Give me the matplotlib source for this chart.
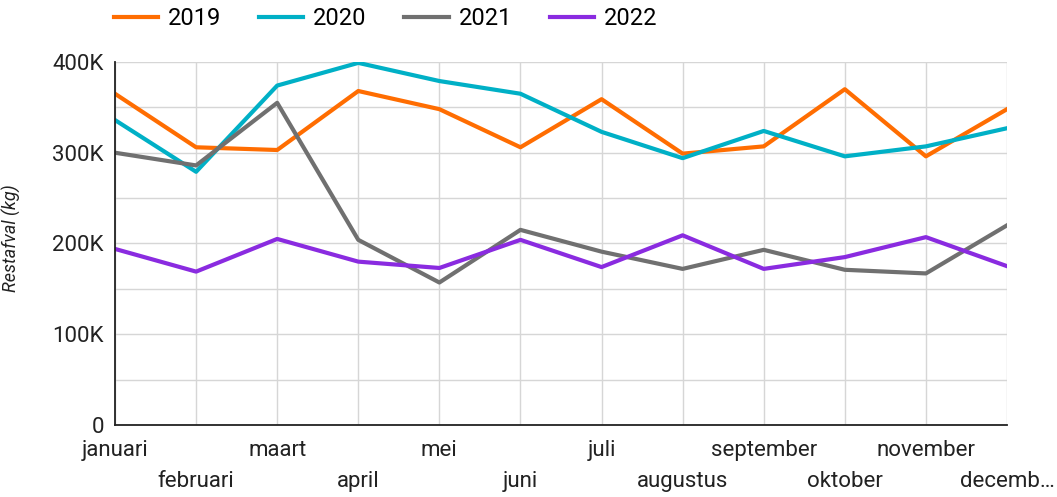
import matplotlib.pyplot as plt
from matplotlib.ticker import FuncFormatter, MultipleLocator

plt.rcParams['font.family'] = ['Roboto', 'DejaVu Sans']

# maanden en restafval per jaar (in kg)
maanden = ['januari', 'februari', 'maart', 'april', 'mei', 'juni', 'juli',
           'augustus', 'september', 'oktober', 'november', 'decemb…']
jaren = ['2019', '2020', '2021', '2022']
afval_2019 = [365000, 306000, 303000, 368000, 348000, 306000, 359000, 299000, 307000, 370000, 296000, 348000]
afval_2020 = [336000, 279000, 374000, 399000, 379000, 365000, 323000, 294000, 324000, 296000, 307000, 327000]
afval_2021 = [300000, 286000, 355000, 204000, 157000, 215000, 191000, 172000, 193000, 171000, 167000, 220000]
afval_2022 = [194000, 169000, 205000, 180000, 173000, 204000, 174000, 209000, 172000, 185000, 207000, 175000]
kleuren = ['#ff6d01', '#00b0c6', '#707070', '#8a2be0']

fig = plt.figure(figsize=(10.57, 4.97), dpi=100)
ax = fig.add_axes([0.1088, 0.1449, 0.8439, 0.7304])

x = list(range(len(maanden)))
for jaar, waarden, kleur in zip(jaren, [afval_2019, afval_2020, afval_2021, afval_2022], kleuren):
    ax.plot(x, waarden, color=kleur, linewidth=3, label=jaar, zorder=3)

ax.set_xlim(0, len(maanden) - 1)
ax.set_ylim(0, 400000)
ax.yaxis.set_major_locator(MultipleLocator(100000))
ax.yaxis.set_minor_locator(MultipleLocator(50000))
ax.yaxis.set_major_formatter(FuncFormatter(lambda v, p: '0' if v == 0 else f'{int(v / 1000)}K'))

# labels om en om op twee regels: even maanden major, oneven als minor ticks lager
ax.set_xticks(x[::2])
ax.set_xticklabels(maanden[::2], fontsize=16, color='#222222')
ax.set_xticks(x[1::2], minor=True)
ax.set_xticklabels(maanden[1::2], minor=True, fontsize=16, color='#222222')
ax.tick_params(axis='x', which='major', length=0, pad=11)
ax.tick_params(axis='x', which='minor', length=0, pad=33)
ax.tick_params(axis='y', labelsize=16, labelcolor='#222222', length=0, pad=8)
ax.tick_params(axis='y', which='minor', length=0)

ax.grid(True, which='both', color='#d6d6d6', linewidth=1)
ax.set_axisbelow(True)
for kant in ['top', 'right']:
    ax.spines[kant].set_visible(False)
for kant in ['left', 'bottom']:
    ax.spines[kant].set_color('#222222')
    ax.spines[kant].set_linewidth(1.3)
    ax.spines[kant].set_zorder(4)

ax.set_ylabel('Restafval (kg)', fontsize=13, style='italic', color='#222222')
ax.yaxis.set_label_coords(-0.105, 0.515)

fig.legend(loc='center left', bbox_to_anchor=(0.1079, 0.962), ncol=4, frameon=False,
           fontsize=17, handlelength=1.87, handletextpad=0.42, columnspacing=1.6,
           borderpad=0, borderaxespad=0)

plt.savefig('out.png', dpi=100)
